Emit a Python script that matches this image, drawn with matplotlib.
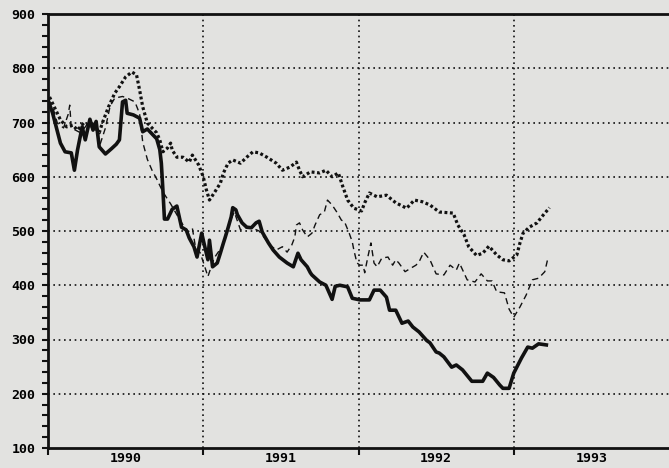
import numpy as np
import matplotlib
matplotlib.use("Agg")
import matplotlib.pyplot as plt
from matplotlib.ticker import MultipleLocator, FixedLocator

# decimal years after 1990.0
solid_t = [0.00, 0.03, 0.08, 0.11, 0.15, 0.17, 0.19, 0.22, 0.24, 0.27, 0.29, 0.31, 0.33, 0.37,
           0.41, 0.44, 0.46, 0.48, 0.50, 0.51, 0.55, 0.59, 0.61, 0.64, 0.70, 0.72, 0.73, 0.74,
           0.75, 0.77, 0.80, 0.83, 0.86, 0.89, 0.91, 0.94, 0.96, 0.99, 1.01, 1.03, 1.04, 1.06,
           1.09, 1.11, 1.13, 1.14, 1.16, 1.18, 1.19, 1.21, 1.22, 1.25, 1.28, 1.31, 1.34, 1.36,
           1.38, 1.42, 1.45, 1.49, 1.54, 1.58, 1.61, 1.63, 1.67, 1.69, 1.70, 1.75, 1.79, 1.83,
           1.85, 1.88, 1.93, 1.96, 2.01, 2.07, 2.10, 2.14, 2.18, 2.20, 2.24, 2.28, 2.32, 2.35,
           2.39, 2.44, 2.46, 2.50, 2.52, 2.55, 2.60, 2.63, 2.67, 2.73, 2.80, 2.83, 2.87, 2.91,
           2.93, 2.97, 3.00, 3.05, 3.09, 3.12, 3.16, 3.21]
solid_v = [742, 717, 662, 646, 644, 612, 649, 692, 668, 706, 686, 702, 655, 642,
           652, 660, 668, 738, 741, 717, 714, 708, 683, 688, 670, 650, 625, 576,
           522, 522, 540, 546, 507, 502, 487, 471, 452, 496, 471, 447, 483, 434,
           441, 459, 478, 487, 506, 526, 543, 539, 530, 515, 507, 506, 515, 518,
           498, 478, 465, 452, 441, 434, 459, 447, 434, 423, 419, 406, 400, 374,
           398, 400, 397, 376, 373, 373, 391, 391, 378, 354, 354, 330, 334, 323,
           314, 298, 294, 277, 275, 268, 249, 253, 244, 223, 223, 238, 230, 216,
           210, 210, 238, 266, 286, 284, 292, 290]

dotted_t = [0.01, 0.05, 0.08, 0.12, 0.16, 0.19, 0.23, 0.27, 0.32, 0.33, 0.35, 0.39, 0.43, 0.46,
            0.50, 0.54, 0.57, 0.59, 0.61, 0.64, 0.67, 0.70, 0.72, 0.74, 0.77, 0.79, 0.80, 0.83,
            0.87, 0.91, 0.93, 0.97, 1.00, 1.02, 1.04, 1.07, 1.11, 1.13, 1.16, 1.19, 1.24, 1.28,
            1.32, 1.36, 1.41, 1.47, 1.51, 1.56, 1.60, 1.62, 1.64, 1.69, 1.75, 1.79, 1.83, 1.87,
            1.90, 1.93, 1.97, 2.02, 2.04, 2.07, 2.12, 2.18, 2.24, 2.31, 2.36, 2.41, 2.46, 2.52,
            2.61, 2.64, 2.68, 2.71, 2.76, 2.80, 2.84, 2.89, 2.93, 2.97, 3.02, 3.04, 3.06, 3.10,
            3.15, 3.18, 3.23]
dotted_v = [747, 723, 705, 692, 695, 686, 699, 695, 686, 681, 699, 729, 754, 766,
            784, 793, 788, 760, 729, 699, 690, 681, 668, 646, 653, 662, 649, 636,
            636, 627, 640, 622, 600, 576, 557, 570, 588, 607, 625, 631, 625, 636,
            646, 644, 636, 625, 612, 618, 627, 612, 600, 609, 607, 612, 600, 607,
            581, 557, 542, 537, 552, 570, 563, 566, 552, 542, 557, 554, 548, 535,
            533, 511, 493, 471, 455, 459, 472, 456, 447, 445, 456, 478, 496, 507,
            515, 526, 543]

dashed_t = [0.00, 0.03, 0.06, 0.10, 0.13, 0.14, 0.15, 0.21, 0.26, 0.29, 0.32, 0.33, 0.37, 0.40,
            0.43, 0.48, 0.51, 0.56, 0.59, 0.61, 0.64, 0.67, 0.70, 0.74, 0.79, 0.83, 0.87, 0.90,
            0.93, 0.95, 0.98, 1.01, 1.03, 1.07, 1.12, 1.17, 1.20, 1.24, 1.27, 1.31, 1.36, 1.43,
            1.47, 1.51, 1.54, 1.57, 1.59, 1.60, 1.62, 1.64, 1.67, 1.70, 1.72, 1.75, 1.78, 1.80,
            1.83, 1.86, 1.89, 1.91, 1.94, 1.96, 1.97, 1.99, 2.01, 2.03, 2.04, 2.06, 2.08, 2.10,
            2.12, 2.15, 2.19, 2.22, 2.24, 2.26, 2.30, 2.34, 2.37, 2.39, 2.42, 2.46, 2.50, 2.55,
            2.59, 2.63, 2.65, 2.70, 2.75, 2.79, 2.83, 2.86, 2.89, 2.94, 2.97, 3.00, 3.04, 3.08,
            3.12, 3.16, 3.20, 3.22]
dashed_v = [742, 729, 699, 690, 715, 732, 690, 681, 699, 699, 681, 655, 690, 730,
            745, 748, 745, 738, 716, 664, 632, 612, 596, 572, 550, 530, 511, 498,
            505, 470, 460, 434, 416, 450, 471, 517, 535, 502, 506, 506, 500, 474,
            465, 471, 461, 474, 489, 511, 515, 502, 489, 496, 511, 530, 535, 557,
            548, 535, 520, 517, 496, 480, 465, 441, 437, 437, 423, 452, 478, 441,
            434, 450, 452, 437, 447, 441, 425, 432, 437, 443, 461, 447, 421, 419,
            437, 428, 441, 410, 406, 421, 408, 408, 388, 386, 356, 341, 360, 382,
            410, 413, 425, 450]

start_year = 1990
year_lines = [1991, 1992, 1993]
year_labels = ["1990", "1991", "1992", "1993"]

bg = "#e2e2e0"
ink = "#111111"

fig = plt.figure(figsize=(6.69, 4.68), dpi=100, facecolor=bg)
ax = fig.add_axes([48 / 669, 20 / 468, 1 - 48 / 669, 434 / 468])
ax.set_facecolor(bg)

# grid
for y in range(200, 900, 100):
    ax.axhline(y, color=ink, lw=1.2, ls=(0, (1, 2.2)), zorder=1)
for x in year_lines:
    ax.axvline(x, color=ink, lw=1.2, ls=(0, (1, 2.2)), zorder=1)

ax.plot(start_year + np.array(dashed_t), dashed_v, color=ink, lw=1.0,
        ls=(0, (4.5, 3)), zorder=3)
ax.plot(start_year + np.array(dotted_t), dotted_v, color=ink, lw=2.3,
        ls=(0, (0.9, 0.8)), dash_capstyle="butt", zorder=3)
ax.plot(start_year + np.array(solid_t), solid_v, color=ink, lw=2.6,
        solid_joinstyle="round", zorder=4)

ax.set_xlim(1990, 1994)
ax.set_ylim(100, 900)

for s in ["left", "bottom", "top"]:
    ax.spines[s].set_linewidth(2)
    ax.spines[s].set_color(ink)
ax.spines["right"].set_visible(False)

font = dict(family="DejaVu Sans Mono", weight="bold", size=9.5)

ax.yaxis.set_minor_locator(MultipleLocator(20))
ax.set_yticks(range(100, 901, 100))
ax.set_yticklabels([str(v) for v in range(100, 901, 100)], **font)
ax.tick_params(axis="y", which="both", direction="out", length=4, width=1.5,
               color=ink, pad=5)

ax.xaxis.set_major_locator(FixedLocator([1990, 1991, 1992, 1993]))
ax.xaxis.set_minor_locator(FixedLocator([1990.5, 1991.5, 1992.5, 1993.5]))
ax.set_xticklabels([], minor=False)
ax.set_xticklabels(year_labels, minor=True, **font)
ax.tick_params(axis="x", which="major", direction="out", length=5, width=1.5, color=ink)
ax.tick_params(axis="x", which="minor", length=0, pad=3)

fig.savefig("out.png", dpi=100, facecolor=bg)
